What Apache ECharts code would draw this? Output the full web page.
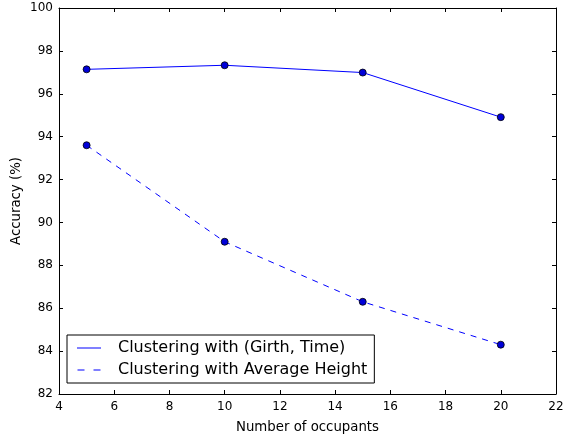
<!DOCTYPE html>
<html>
<head>
<meta charset="utf-8">
<script src="https://cdn.jsdelivr.net/npm/echarts@6/dist/echarts.min.js"></script>
<style>
  html, body { margin: 0; padding: 0; background: #fff; }
  #chart { width: 564px; height: 436px; }
</style>
</head>
<body>
<div id="chart"></div>
<script>
// Occupant counts and accuracy of the two clustering approaches
const occupants = [5, 10, 15, 20];
const girthTimeAccuracy = [97.14, 97.33, 96.99, 94.91];
const avgHeightAccuracy = [93.60, 89.10, 86.30, 84.30];
const seriesNames = ['Clustering with (Girth, Time)', 'Clustering with Average Height'];

const FONT = 'DejaVu Sans';
const BLUE = '#0000ff';

const pairs = (xs, ys) => xs.map((x, i) => [x, ys[i]]);

const frameAxis = {
  axisLine: { show: true, onZero: false, lineStyle: { color: '#000', width: 1 } },
  axisTick: { show: true, inside: true, length: 4, lineStyle: { color: '#000', width: 1 } },
  splitLine: { show: false }
};

const chart = echarts.init(document.getElementById('chart'), null, { renderer: 'canvas' });

chart.setOption({
  animation: false,
  backgroundColor: '#fff',
  textStyle: { fontFamily: FONT },
  grid: { left: 59, right: 8, top: 8, bottom: 42, outerBoundsMode: 'none', containLabel: false },
  legend: {
    orient: 'vertical',
    left: 67,
    top: 335,
    padding: [5, 7, 5, 10],
    itemGap: 6,
    itemWidth: 24,
    itemHeight: 1,
    borderColor: '#000',
    borderWidth: 1,
    borderRadius: 0,
    backgroundColor: '#fff',
    itemStyle: { color: BLUE, borderWidth: 0 },
    lineStyle: { width: 0 },
    textStyle: { fontFamily: FONT, fontSize: 16, color: '#000', padding: [0, 0, 0, 12] },
    data: [
      { name: seriesNames[0], icon: 'path://M0,0h24v1h-24z', itemStyle: { color: BLUE, borderWidth: 0 } },
      { name: seriesNames[1], icon: 'path://M0,0h7v1h-7zM16,0h7v1h-7z', itemStyle: { color: BLUE, borderWidth: 0 } }
    ]
  },
  xAxis: [
    Object.assign({
      type: 'value', min: 4, max: 22, interval: 2, position: 'bottom',
      name: 'Number of occupants', nameLocation: 'middle', nameGap: 27,
      nameTextStyle: { fontFamily: FONT, fontSize: 13.3, color: '#000' },
      axisLabel: { fontFamily: FONT, fontSize: 12, color: '#000', margin: 7 }
    }, frameAxis),
    Object.assign({
      type: 'value', min: 4, max: 22, interval: 2, position: 'top',
      axisLabel: { show: false }
    }, frameAxis)
  ],
  yAxis: [
    Object.assign({
      type: 'value', min: 82, max: 100, interval: 2, position: 'left',
      name: 'Accuracy (%)', nameLocation: 'middle', nameGap: 36, nameRotate: 90,
      nameMoveOverlap: false,
      nameTextStyle: { fontFamily: FONT, fontSize: 13.3, color: '#000' },
      axisLabel: { fontFamily: FONT, fontSize: 12, color: '#000', margin: 6 }
    }, frameAxis),
    Object.assign({
      type: 'value', min: 82, max: 100, interval: 2, position: 'right',
      axisLabel: { show: false }
    }, frameAxis)
  ],
  series: [
    {
      name: seriesNames[0],
      type: 'line',
      color: BLUE,
      data: pairs(occupants, girthTimeAccuracy),
      symbol: 'circle',
      symbolSize: 7,
      lineStyle: { color: BLUE, width: 1 },
      itemStyle: { color: '#0000d8', borderColor: '#000', borderWidth: 0.8 },
      emphasis: { disabled: true }
    },
    {
      name: seriesNames[1],
      type: 'line',
      color: BLUE,
      data: pairs(occupants, avgHeightAccuracy),
      symbol: 'circle',
      symbolSize: 7,
      lineStyle: { color: BLUE, width: 1, type: [6, 6] },
      itemStyle: { color: '#0000d8', borderColor: '#000', borderWidth: 0.8 },
      emphasis: { disabled: true }
    }
  ]
});
</script>
</body>
</html>
